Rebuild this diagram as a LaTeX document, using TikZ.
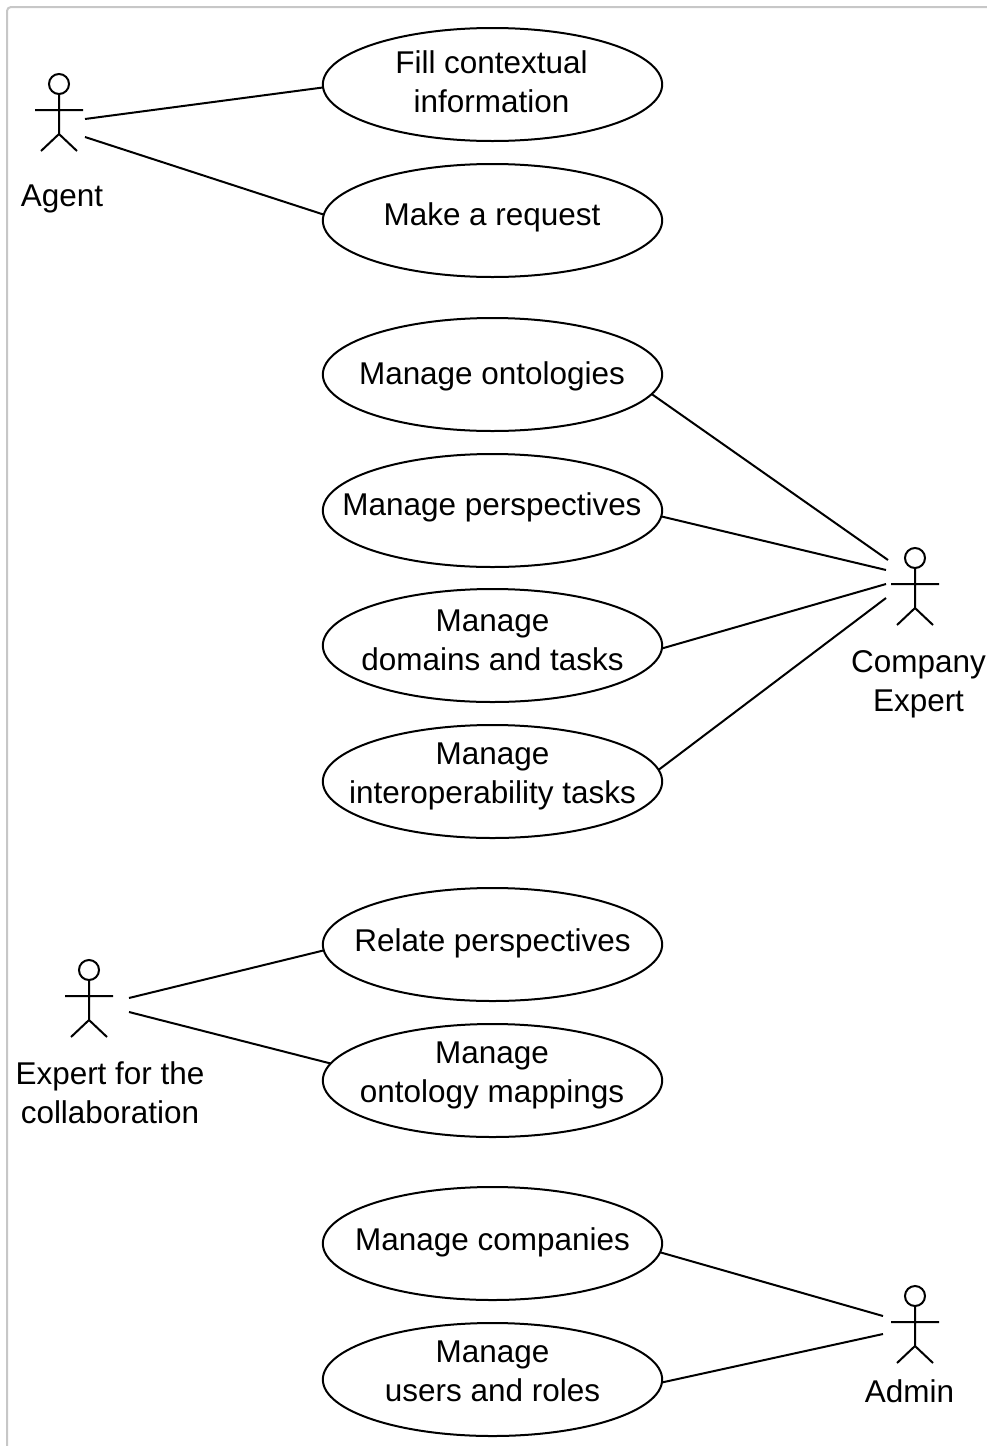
\documentclass[tikz,border=0pt]{standalone}
\usepackage{fontspec}
\setmainfont{Liberation Sans}
\usetikzlibrary{shapes.geometric}
\tikzset{
  x=0.75pt,y=-0.75pt,
  usecase/.style={draw=black,line width=1.5pt,ellipse,outer sep=0pt,inner sep=0pt,minimum width=254.5pt,minimum height=84.75pt},
  label/.style={align=center,inner sep=0pt,font=\fontsize{23.6}{29.25}\selectfont},
  wire/.style={draw=black,line width=1.5pt},
  actor/.pic={
    \draw[wire] (0,0) circle[radius=10];
    \draw[wire] (0,10) -- (0,50) (-24,26) -- (24,26) (-18,67) -- (0,50) -- (18,67);
  }
}
\begin{document}
\begin{tikzpicture}
\useasboundingbox (0,0) rectangle (987,1446);
\draw[draw=black!22,line width=1.5pt,rounded corners=3pt] (987,7) -- (7,7) -- (7,1446);
\pic at (59,84) {actor};
\pic at (915,558) {actor};
\pic at (89,970) {actor};
\pic at (915,1296) {actor};
\node[label] (lagent) at (62,199) {Agent};
\node[label] (lcompany) at (918.5,684) {Company\\Expert};
\node[label] (lexpert) at (110,1093) {Expert for the\\collaboration};
\node[label] (ladmin) at (909.5,1391) {Admin};
\node[usecase] (u1) at (492.5,84.5) {};
\node[usecase] (u2) at (492.5,220.5) {};
\node[usecase] (u3) at (492.5,374.5) {};
\node[usecase] (u4) at (492.5,510.5) {};
\node[usecase] (u5) at (492.5,645.5) {};
\node[usecase] (u6) at (492.5,781.5) {};
\node[usecase] (u7) at (492.5,944.5) {};
\node[usecase] (u8) at (492.5,1080.5) {};
\node[usecase] (u9) at (492.5,1243.5) {};
\node[usecase] (u10) at (492.5,1379.5) {};
\node[label] (t1) at (491.5,82) {Fill contextual\\information};
\node[label] (t2) at (492,217) {Make a request};
\node[label] (t3) at (492,376) {Manage ontologies};
\node[label] (t4) at (492,507) {Manage perspectives};
\node[label] (t5) at (492.5,640.5) {Manage\\domains and tasks};
\node[label] (t6) at (492.5,776) {Manage\\interoperability tasks};
\node[label] (t7) at (492.5,943) {Relate perspectives};
\node[label] (t8) at (492,1075) {Manage\\ontology mappings};
\node[label] (t9) at (492.5,1242) {Manage companies};
\node[label] (t10) at (492.5,1371) {Manage\\users and roles};
\coordinate (a1) at (85,119);
\coordinate (a2) at (85,137);
\coordinate (c1) at (888,560);
\coordinate (c2) at (886,570);
\coordinate (c3) at (886,584);
\coordinate (c4) at (886,598);
\coordinate (e1) at (129,998);
\coordinate (e2) at (129,1012);
\coordinate (d1) at (883,1316);
\coordinate (d2) at (883,1334);
\draw[wire] (a1) -- (u1.181.7);
\draw[wire] (a2) -- (u2.178.5);
\draw[wire] (u3.-7.4) -- (c1);
\draw[wire] (u4.-2.7) -- (c2);
\draw[wire] (u5.-1.8) -- (c3);
\draw[wire] (u6.4.3) -- (c4);
\draw[wire] (e1) -- (u7.182.5);
\draw[wire] (e2) -- (u8.174.9);
\draw[wire] (u9.-3.3) -- (d1);
\draw[wire] (u10.-1.4) -- (d2);
\end{tikzpicture}
\end{document}
